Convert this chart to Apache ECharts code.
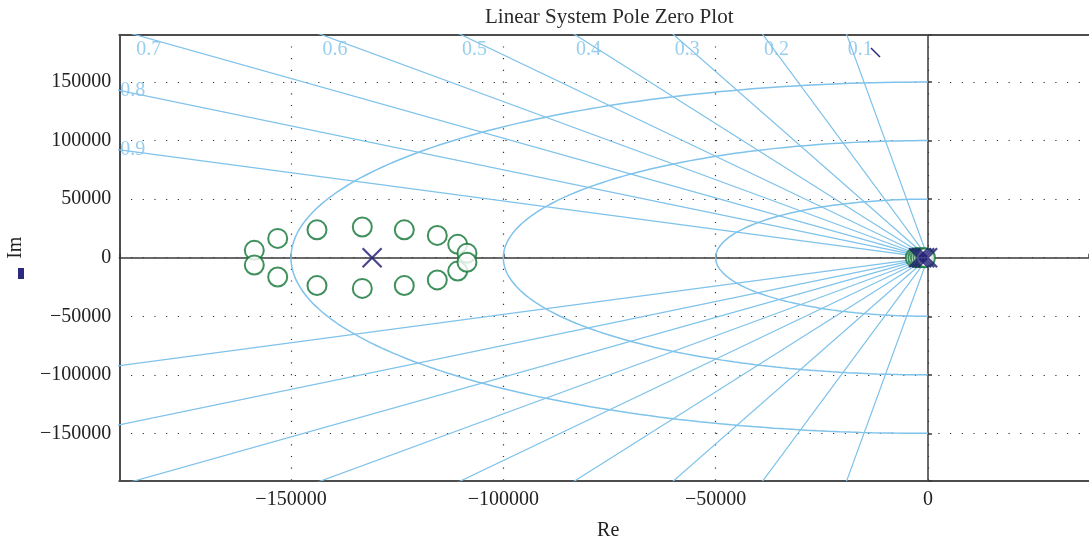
<!DOCTYPE html>
<html>
<head>
<meta charset="utf-8">
<title>Linear System Pole Zero Plot</title>
<script src="https://cdn.jsdelivr.net/npm/echarts@6/dist/echarts.min.js"></script>
<style>
html, body { margin: 0; padding: 0; background: #fff; }
#main { width: 1089px; height: 542px; }
</style>
</head>
<body>
<div id="main"></div>
<script>
// plot window
var xRange = [-190430, 37910];
var yRange = [-190430, 190430];

// zeros (o) and poles (x)
var zerosRe = [-158640, -158640, -153130, -153130, -143880, -143880, -133210, -133210,
  -123320, -123320, -115550, -115550, -110750, -110750, -108560, -108560,
  -3000, -2400, -1800, -1200, -600];
var zerosIm = [6300, -6300, 16500, -16500, 23800, -23800, 26200, -26200,
  23800, -23800, 19000, -19000, 11400, -11400, 3900, -3900,
  0, 0, 0, 0, 0];
var polesRe = [-130900, -2200, -1500, -800, -100];
var polesIm = [0, 0, 0, 0, 0];

// sgrid: damping ratios and natural frequencies
var dampingRatios = [0.1, 0.2, 0.3, 0.4, 0.5, 0.6, 0.7, 0.8, 0.9];
var naturalFreqs = [50000, 100000, 150000];

var gridBlue = "#7fc2ea";
var serif = "Liberation Serif";

function fmt(v) {
  if (v % 50000 !== 0) return "";
  return v < 0 ? "\u2212" + (-v) : String(v);
}

var series = [];

// damping lines through the origin (clipped by the grid)
var R = 400000;
dampingRatios.forEach(function(z) {
  var s = Math.sqrt(1 - z * z);
  series.push({
    type: "line",
    silent: true,
    symbol: "none",
    lineStyle: { color: gridBlue, width: 1.2 },
    data: [[-R * z, R * s], [0, 0], [-R * z, -R * s]]
  });
});

// natural frequency semicircles
naturalFreqs.forEach(function(wn) {
  var pts = [];
  for (var a = 90; a <= 270; a += 1) {
    var t = a * Math.PI / 180;
    pts.push([wn * Math.cos(t), wn * Math.sin(t)]);
  }
  series.push({
    type: "line",
    silent: true,
    symbol: "none",
    lineStyle: { color: gridBlue, width: 1.5 },
    data: pts
  });
});

// damping ratio labels where each line leaves the frame
var labelData = dampingRatios.map(function(z) {
  var k = Math.sqrt(1 - z * z) / z;
  var yTop = yRange[1];
  var xTop = -yTop / k;
  if (xTop >= xRange[0]) {
    return {
      value: [xTop, yTop],
      label: { position: [1, 5], align: "left", verticalAlign: "top", formatter: String(z) }
    };
  }
  return {
    value: [xRange[0], -xRange[0] * k],
    label: { position: [1, 0], align: "left", verticalAlign: "middle", formatter: String(z) }
  };
});
series.push({
  type: "scatter",
  silent: true,
  clip: false,
  symbolSize: 0,
  label: { show: true, color: gridBlue, fontFamily: serif, fontSize: 20 },
  data: labelData
});

series.push({
  type: "scatter",
  name: "zeros",
  symbol: "emptyCircle",
  symbolSize: 19,
  z: 3,
  itemStyle: { color: "#0f7433", borderColor: "#0f7433", borderWidth: 1.8 },
  data: zerosRe.map(function(r, i) { return [r, zerosIm[i]]; })
});

series.push({
  type: "scatter",
  name: "poles",
  symbol: "path://M0,0L10,10M10,0L0,10",
  symbolSize: 19,
  z: 4,
  itemStyle: { color: "transparent", borderColor: "#1c1a70", borderWidth: 2.2 },
  data: polesRe.map(function(r, i) { return [r, polesIm[i]]; })
});

var chart = echarts.init(document.getElementById("main"));

var frame = { show: true, onZero: false, lineStyle: { color: "#4d4d4d", width: 2 } };
var dotted = {
  show: true, showMinLine: false, showMaxLine: false,
  lineStyle: { color: "#333", width: 1.2, type: [1.2, 10.5] }
};
var labelStyle = { fontFamily: serif, fontSize: 20, color: "#222" };

var option = {
  animation: false,
  backgroundColor: "#fff",
  title: {
    text: "Linear System Pole Zero Plot",
    left: 480,
    top: 2,
    textStyle: { fontFamily: serif, fontSize: 21, fontWeight: "normal", color: "#2a2a2a" }
  },
  grid: { left: 119.3, top: 34.7, right: 0, bottom: 61.3, outerBoundsMode: "none", containLabel: false },
  xAxis: [
    {
      type: "value", position: "bottom", min: xRange[0], max: xRange[1], splitNumber: 5,
      axisLine: frame, axisTick: { show: false },
      axisLabel: Object.assign({ margin: 9, formatter: fmt }, labelStyle),
      splitLine: dotted,
      name: "Re", nameLocation: "middle", nameGap: 40,
      nameTextStyle: { fontFamily: serif, fontSize: 20, color: "#222", padding: [0, 0, 0, 8] }
    },
    {
      type: "value", min: xRange[0], max: xRange[1], splitNumber: 5,
      axisLine: { show: true, onZero: true, lineStyle: { color: "#3a3a3a", width: 1.5 } },
      axisTick: { show: true, length: 4, lineStyle: { color: "#3a3a3a", width: 1.5 } },
      axisLabel: { show: false }, splitLine: { show: false }
    },
    {
      type: "value", position: "top", min: xRange[0], max: xRange[1],
      axisLine: frame, axisTick: { show: false }, axisLabel: { show: false }, splitLine: { show: false }
    }
  ],
  yAxis: [
    {
      type: "value", position: "left", min: yRange[0], max: yRange[1], splitNumber: 8,
      axisLine: frame, axisTick: { show: false },
      axisLabel: Object.assign({ margin: 8, formatter: fmt }, labelStyle),
      splitLine: dotted,
      name: "Im", nameLocation: "middle", nameGap: 94, nameRotate: 90,
      nameTextStyle: { fontFamily: serif, fontSize: 20, color: "#222", padding: [0, 0, 0, 20] }
    },
    {
      type: "value", min: yRange[0], max: yRange[1], splitNumber: 8,
      axisLine: { show: true, onZero: true, lineStyle: { color: "#3a3a3a", width: 1.5 } },
      axisTick: { show: true, length: 4, lineStyle: { color: "#3a3a3a", width: 1.5 } },
      axisLabel: { show: false }, splitLine: { show: false }
    }
  ],
  graphic: [
    { type: "rect", shape: { x: 18, y: 268, width: 6, height: 11 }, style: { fill: "#2b2a7e" } },
    { type: "line", shape: { x1: 871, y1: 48, x2: 880, y2: 57 }, style: { stroke: "#2b2a7e", lineWidth: 1.5 } }
  ],
  series: series
};

chart.setOption(option);
window.addEventListener("resize", function() { chart.resize(); });
</script>
</body>
</html>
